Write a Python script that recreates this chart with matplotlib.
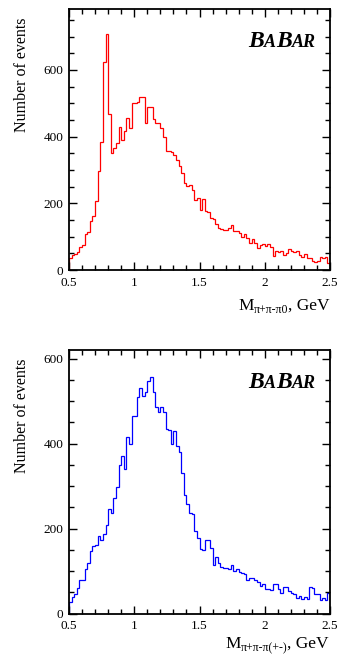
import numpy as np
import matplotlib

matplotlib.use("Agg")
import matplotlib.pyplot as plt  # noqa: E402
from matplotlib.ticker import MultipleLocator  # noqa: E402

plt.rcParams["font.family"] = ["Liberation Serif", "DejaVu Serif"]

# Binning shared by both spectra: 100 bins of 20 MeV from 0.5 to 2.5 GeV
BIN_LO, BIN_HI, N_BINS = 0.5, 2.5, 100

# pi+ pi- pi0 invariant mass, events per bin
COUNTS_3PI_NEUTRAL = [
    35, 45, 48, 55, 70, 75, 107, 115, 147, 162,
    208, 298, 383, 625, 708, 468, 350, 365, 380, 428,
    390, 418, 455, 425, 500, 500, 505, 520, 520, 440,
    490, 490, 452, 442, 442, 425, 400, 358, 358, 355,
    345, 330, 312, 290, 262, 252, 255, 240, 210, 215,
    180, 213, 177, 175, 155, 152, 137, 125, 122, 121,
    121, 125, 135, 118, 118, 110, 98, 108, 95, 82,
    92, 82, 66, 75, 78, 72, 77, 68, 42, 57,
    55, 57, 46, 52, 62, 57, 54, 57, 45, 38,
    47, 37, 35, 28, 23, 28, 39, 35, 38, 22,
]

# pi+ pi- pi(+-) invariant mass, events per bin
COUNTS_3PI_CHARGED = [
    28, 40, 46, 59, 80, 80, 105, 118, 147, 159,
    161, 183, 173, 187, 208, 246, 237, 271, 297, 349,
    370, 341, 416, 400, 465, 465, 510, 531, 512, 522,
    548, 557, 522, 487, 473, 487, 473, 433, 432, 400,
    430, 394, 380, 330, 279, 258, 236, 233, 193, 177,
    152, 150, 173, 172, 153, 113, 132, 120, 109, 106,
    106, 104, 113, 100, 104, 98, 96, 94, 79, 83,
    84, 79, 73, 65, 70, 58, 58, 55, 69, 69,
    57, 49, 62, 62, 54, 49, 46, 36, 41, 33,
    38, 33, 62, 61, 46, 47, 32, 36, 32, 49,
]

SUB_NEUTRAL = "\u03c0+\u03c0-\u03c00"
SUB_CHARGED = "\u03c0+\u03c0-\u03c0(+-)"

W, H, DPI = 339, 660, 100


def chain_text(fig, x_px, y_px, parts, **kw):
    """Lay out text pieces left to right on a common baseline (pixel coords,
    origin top-left). parts: (string, fontsize, baseline shift in px)."""
    renderer = fig.canvas.get_renderer()
    x = x_px
    for s, size, dy in parts:
        t = fig.text(x / W, 1 - (y_px + dy) / H, s, fontsize=size,
                     ha="left", va="baseline", **kw)
        x += t.get_window_extent(renderer=renderer).width
    return x


def panel(fig, rect, counts, color, ymax, sub, label_x, label_base):
    ax = fig.add_axes(rect)
    edges = np.linspace(BIN_LO, BIN_HI, N_BINS + 1)
    ax.stairs(counts, edges, color=color, linewidth=0.9, baseline=0)
    ax.set_xlim(BIN_LO, BIN_HI)
    ax.set_ylim(0, ymax)

    ax.xaxis.set_major_locator(MultipleLocator(0.5))
    ax.xaxis.set_minor_locator(MultipleLocator(0.1))
    ax.yaxis.set_major_locator(MultipleLocator(200))
    ax.yaxis.set_minor_locator(MultipleLocator(50))
    ax.xaxis.set_major_formatter(lambda v, _: f"{v:g}")
    ax.tick_params(which="both", direction="in", top=True, right=True,
                   labelsize=9.5, width=1.0)
    ax.tick_params(which="major", length=6)
    ax.tick_params(which="minor", length=3.5)
    ax.tick_params(axis="x", pad=5)
    ax.tick_params(axis="y", pad=4)
    for sp in ax.spines.values():
        sp.set_linewidth(1.3)

    # experiment logo in small caps, bold italic
    top = (1 - rect[1] - rect[3]) * H
    chain_text(fig, 248, top + 38,
               [("B", 17, 0), ("A", 13, 0), ("B", 17, 0), ("AR", 13, 0)],
               fontweight="bold", fontstyle="italic")

    fig.text(22 / W, 1 - (top + 8) / H, "Number of events", rotation=90,
             ha="center", va="top", fontsize=11.5)

    chain_text(fig, label_x, label_base,
               [("M", 12.5, 0), (sub, 8.5, 3), (", GeV", 12.5, 0)])
    return ax


fig = plt.figure(figsize=(W / DPI, H / DPI), dpi=DPI)
panel(fig, [69 / W, 1 - 270 / H, 261 / W, 261 / H], COUNTS_3PI_NEUTRAL,
      "#ff0000", 783, SUB_NEUTRAL, 238, 310)
panel(fig, [69 / W, 1 - 613.5 / H, 261 / W, 263.5 / H], COUNTS_3PI_CHARGED,
      "#0000ff", 620, SUB_CHARGED, 225, 648)

fig.savefig("out.png", dpi=DPI)
